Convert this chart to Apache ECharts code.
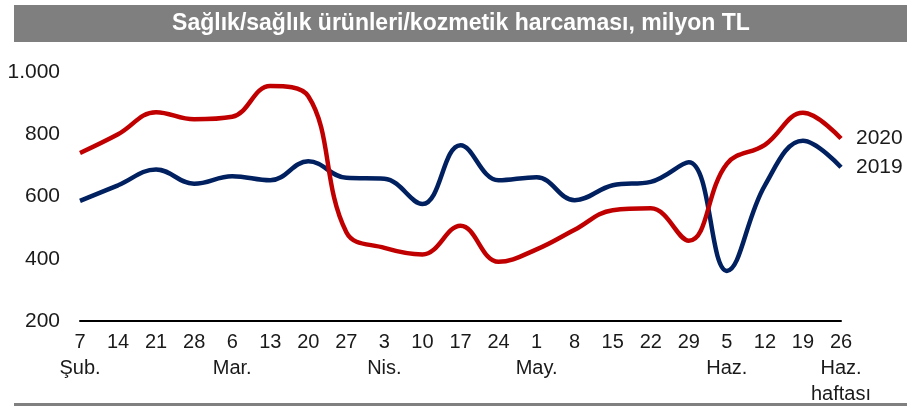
<!DOCTYPE html>
<html>
<head>
<meta charset="utf-8">
<script src="https://cdn.jsdelivr.net/npm/echarts@6/dist/echarts.min.js"></script>
<style>
  html, body { margin: 0; padding: 0; background: #fff; }
  #main { width: 907px; height: 407px; }
</style>
</head>
<body>
<div id="main"></div>
<script>
// hafta günleri ve ay etiketleri
const weeks = ['7', '14', '21', '28', '6', '13', '20', '27', '3', '10', '17', '24', '1', '8', '15', '22', '29', '5', '12', '19', '26'];
const months = ['Şub.', '', '', '', 'Mar.', '', '', '', 'Nis.', '', '', '', 'May.', '', '', '', '', 'Haz.', '', '', 'Haz.\nhaftası'];
const v2019 = [586, 636, 687, 641, 665, 652, 713, 660, 657, 576, 765, 652, 662, 588, 636, 647, 710, 361, 636, 779, 694];
const v2020 = [740, 800, 871, 848, 856, 955, 922, 485, 435, 414, 506, 390, 430, 493, 556, 562, 458, 705, 766, 869, 786];
const yTicks = [200, 400, 600, 800, 1000];

const font = "'Liberation Sans', Arial, sans-serif";
const chart = echarts.init(document.getElementById('main'));

function seriesOf(name, data, color) {
  return {
    name: name,
    type: 'line',
    data: data,
    smooth: 0.4,
    symbol: 'none',
    lineStyle: { color: color, width: 4.5 },
    endLabel: {
      show: true,
      formatter: '{a}',
      distance: 15,
      color: '#1a1a1a',
      fontFamily: font,
      fontSize: 21
    }
  };
}

chart.setOption({
  animation: false,
  graphic: [
    { type: 'rect', shape: { x: 14, y: 5, width: 893, height: 37 }, style: { fill: '#7f7f7f' } },
    {
      type: 'text', x: 461, y: 24,
      style: {
        text: 'Sağlık/sağlık ürünleri/kozmetik harcaması, milyon TL',
        fill: '#fff', font: 'bold 23px ' + font,
        textAlign: 'center', textVerticalAlign: 'middle'
      }
    },
    { type: 'rect', shape: { x: 14, y: 403, width: 893, height: 3 }, style: { fill: '#808080' } }
  ],
  grid: { left: 80, right: 66, top: 72, bottom: 83 },
  xAxis: {
    type: 'category',
    data: weeks,
    boundaryGap: false,
    axisLine: { lineStyle: { color: '#000', width: 2 } },
    axisTick: { show: false },
    axisLabel: {
      interval: 0,
      margin: 8,
      color: '#1a1a1a',
      fontFamily: font,
      fontSize: 20,
      lineHeight: 26,
      verticalAlign: 'top',
      formatter: (v, i) => months[i] ? v + '\n' + months[i] : v
    },
    splitLine: { show: false }
  },
  yAxis: {
    type: 'value',
    min: yTicks[0],
    max: yTicks[yTicks.length - 1],
    interval: 200,
    axisLine: { show: false },
    axisTick: { show: false },
    splitLine: { show: false },
    axisLabel: {
      margin: 20,
      color: '#1a1a1a',
      fontFamily: font,
      fontSize: 21,
      formatter: v => v >= 1000 ? Math.floor(v / 1000) + '.' + String(v % 1000).padStart(3, '0') : String(v)
    }
  },
  series: [
    seriesOf('2019', v2019, '#002060'),
    seriesOf('2020', v2020, '#c00000')
  ]
});
</script>
</body>
</html>
